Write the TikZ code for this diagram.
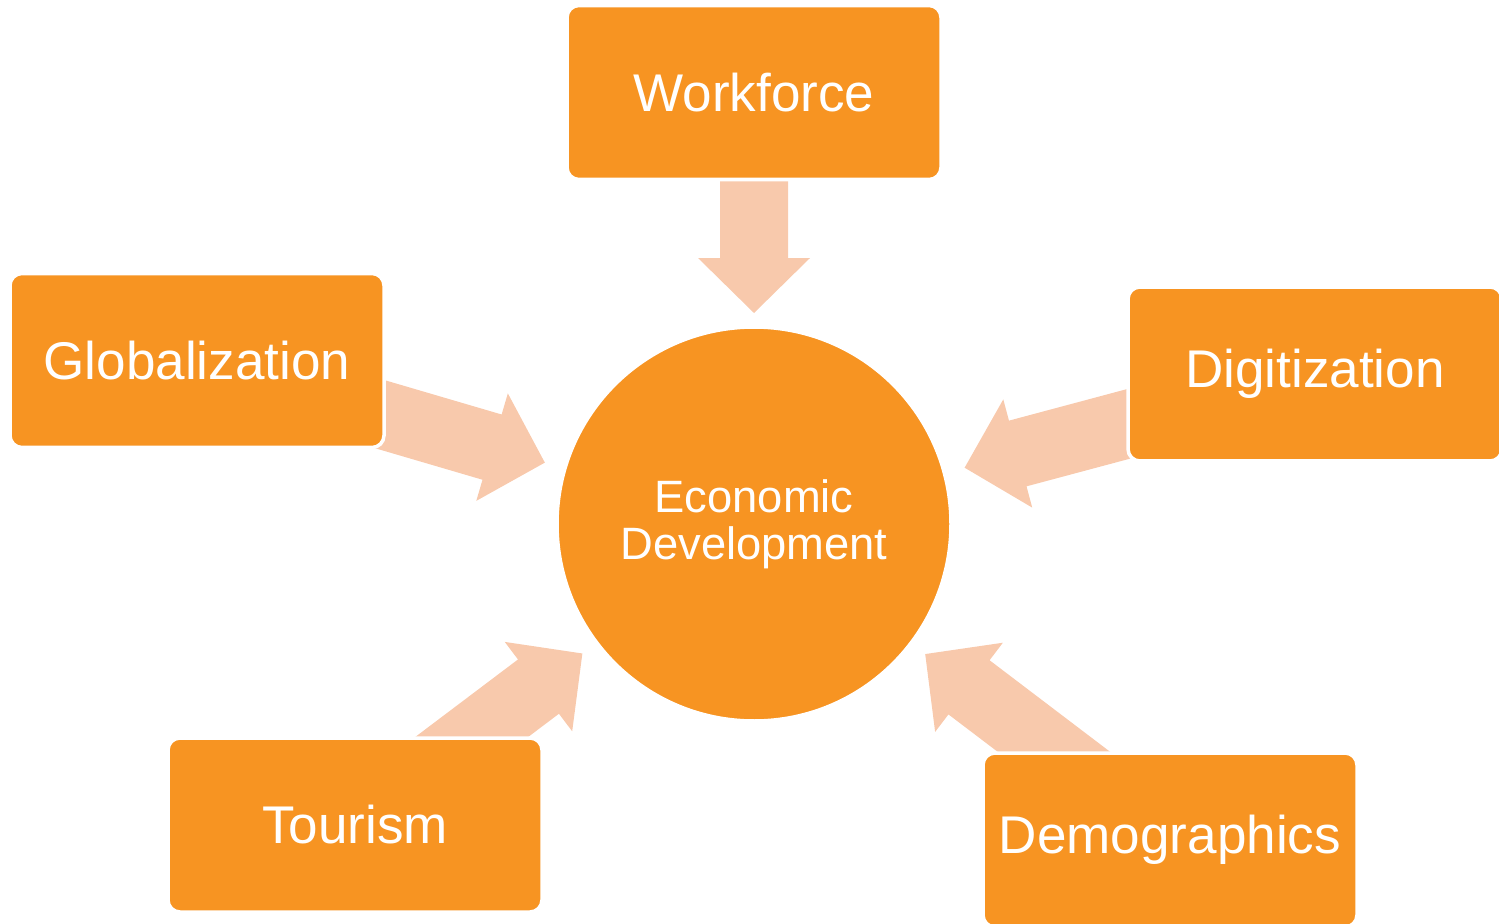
\documentclass[tikz,border=0pt]{standalone}
\usepackage{fontspec}
\setmainfont{Liberation Sans}
\usepackage{tikz}
\usetikzlibrary{calc, backgrounds}

\definecolor{boxorange}{RGB}{247,148,34}
\definecolor{arrowpeach}{RGB}{248,201,172}

\begin{document}
\begin{tikzpicture}[
		factor/.style={rectangle,rounded corners=0.12cm,fill=boxorange,draw=white,line width=1pt,
			minimum width=3.74cm,minimum height=1.74cm,text=white,font=\fontsize{15.1}{18}\selectfont},
		hub/.style={circle,fill=boxorange,draw=white,line width=1pt,minimum size=3.94cm,
			text=white,align=center,font=\fontsize{12.9}{13.3}\selectfont},
		pointer/.style={fill=arrowpeach}]
		\useasboundingbox (0,0) rectangle (14.99,9.23);

		\node[hub]    (ec) at (7.54,3.99)  {Economic\\Development};
		\node[factor] (wf) at (7.54,8.305) {Workforce};
		\node[factor] (gl) at (1.97,5.625) {Globalization};
		\node[factor] (dg) at (13.15,5.49) {Digitization};
		\node[factor] (to) at (3.55,0.98)  {Tourism};
		\node[factor] (dm) at (11.70,0.83) {Demographics};

		% block arrows, tip towards the hub
		\begin{scope}[on background layer]
		\foreach \n/\tipd/\headd in {wf/2.11/2.66, gl/2.18/2.73, dg/2.18/2.73, to/2.15/2.70, dm/2.15/2.70} {
			\coordinate (t) at ($(ec)!\tipd cm!(\n)$);
			\coordinate (h) at ($(ec)!\headd cm!(\n)$);
			\fill[pointer] (t) -- ($(h)!0.56cm!90:(ec)$) -- ($(h)!0.34cm!90:(ec)$)
				-- ($(\n)!0.34cm!90:(ec)$) -- ($(\n)!0.34cm!-90:(ec)$)
				-- ($(h)!0.34cm!-90:(ec)$) -- ($(h)!0.56cm!-90:(ec)$) -- cycle;
		}
		\end{scope}
	\end{tikzpicture}
\end{document}
